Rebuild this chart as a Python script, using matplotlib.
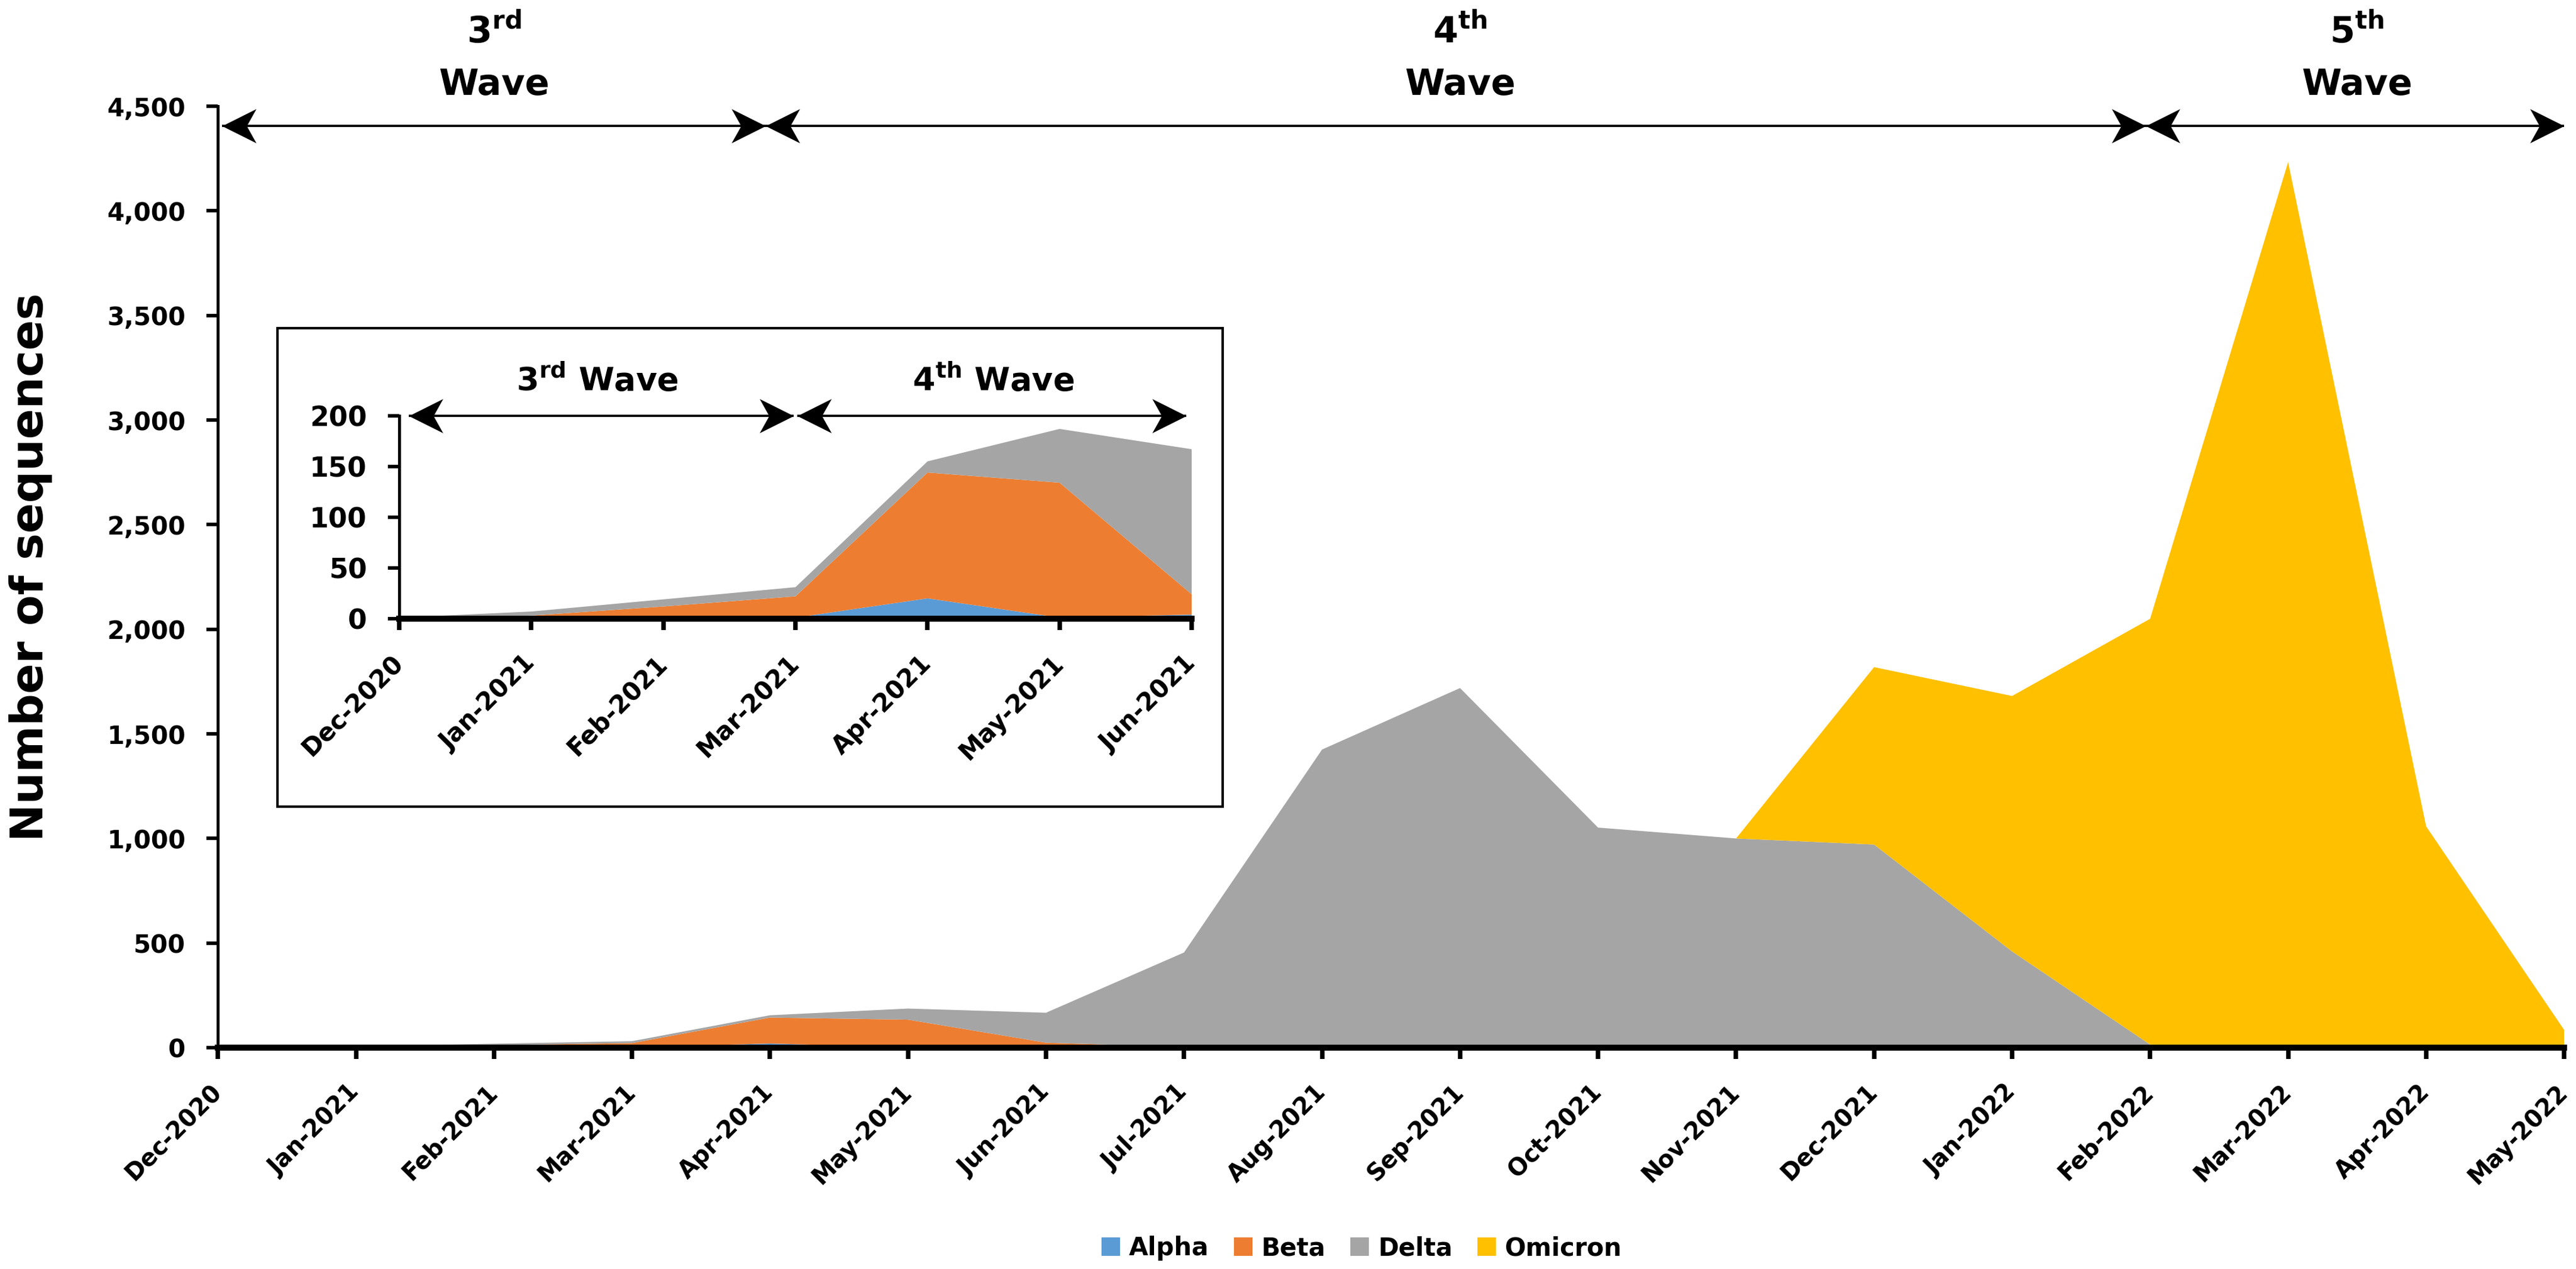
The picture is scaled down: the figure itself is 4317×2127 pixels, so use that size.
import matplotlib
matplotlib.use('Agg')
import matplotlib.pyplot as plt
import numpy as np
from matplotlib.path import Path
from matplotlib.patches import Rectangle
from matplotlib.ticker import FuncFormatter

plt.rcParams['font.family'] = ['DejaVu Sans']
plt.rcParams['font.weight'] = 'bold'
plt.rcParams['mathtext.fontset'] = 'dejavusans'

# ---------------- data ----------------
months = ['Dec-2020', 'Jan-2021', 'Feb-2021', 'Mar-2021', 'Apr-2021', 'May-2021',
          'Jun-2021', 'Jul-2021', 'Aug-2021', 'Sep-2021', 'Oct-2021', 'Nov-2021',
          'Dec-2021', 'Jan-2022', 'Feb-2022', 'Mar-2022', 'Apr-2022', 'May-2022']
alpha   = [0, 0, 0, 1, 20, 1, 4, 0, 0, 0, 0, 0, 0, 0, 0, 0, 0, 0]
beta    = [0, 3, 12, 21, 124, 133, 20, 3, 0, 0, 0, 0, 0, 0, 0, 0, 0, 0]
delta   = [1, 4, 7, 9, 11, 53, 143, 452, 1425, 1719, 1052, 1000, 971, 460, 15, 5, 3, 2]
omicron = [0, 0, 0, 0, 0, 0, 0, 0, 0, 0, 0, 0, 848, 1221, 2035, 4228, 1055, 83]

variants = ['Alpha', 'Beta', 'Delta', 'Omicron']
colors = ['#5B9BD5', '#ED7D31', '#A5A5A5', '#FFC000']

main_yticks = [0, 500, 1000, 1500, 2000, 2500, 3000, 3500, 4000, 4500]
inset_yticks = [0, 50, 100, 150, 200]
inset_months = 7  # Dec-2020 .. Jun-2021

# waves: (number, suffix, start index, end index)
main_waves = [('3', 'rd', 0, 4), ('4', 'th', 4, 14), ('5', 'th', 14, 17)]
inset_waves = [('3', 'rd', 0, 3), ('4', 'th', 3, 6)]

# ---------------- helpers ----------------
def stealth(direction):
    # arrow head whose tip sits at (0, 0)
    s = 1 if direction == 'right' else -1
    verts = [(0, 0), (-s * 1.0, 0.5), (-s * 0.72, 0), (-s * 1.0, -0.5), (0, 0)]
    codes = [Path.MOVETO, Path.LINETO, Path.LINETO, Path.LINETO, Path.CLOSEPOLY]
    return Path(verts, codes)

def draw_arrow(ax, x0, x1, y, ms=27.5, lw=0.9):
    ax.plot([x0, x1], [y, y], color='black', lw=lw, solid_capstyle='butt',
            clip_on=False, zorder=6)
    ax.plot([x0], [y], marker=stealth('left'), markersize=ms, color='black',
            markeredgewidth=0, clip_on=False, zorder=6, linestyle='none')
    ax.plot([x1], [y], marker=stealth('right'), markersize=ms, color='black',
            markeredgewidth=0, clip_on=False, zorder=6, linestyle='none')

def style_axes(ax, ylabel_size):
    ax.spines['top'].set_visible(False)
    ax.spines['right'].set_visible(False)
    ax.spines['bottom'].set_linewidth(2.4)
    ax.spines['left'].set_linewidth(1.2)
    ax.tick_params(axis='x', direction='out', length=4.5, width=1.8, pad=12)
    ax.tick_params(axis='y', direction='out', length=4.5, width=1.4, pad=8.5,
                   labelsize=ylabel_size)

# ---------------- figure ----------------
W, H = 4317, 2127
fig = plt.figure(figsize=(W / 300, H / 300), dpi=300)

x = np.arange(len(months))
ax = fig.add_axes([0.0846, 0.1744, 0.9108, 0.7419], zorder=1)
polys = ax.stackplot(x, alpha, beta, delta, omicron, colors=colors,
                     labels=variants, linewidth=0)
ax.set_xlim(0, len(months) - 1)
ax.set_ylim(0, 4500)
ax.set_yticks(main_yticks)
ax.yaxis.set_major_formatter(FuncFormatter(lambda v, p: f'{int(v):,}'))
ax.set_xticks(x)
ax.set_xticklabels(months, rotation=45, ha='right', va='center',
                   rotation_mode='anchor', fontsize=9.5, fontweight='bold')
style_axes(ax, 10)
for t in ax.get_yticklabels():
    t.set_fontweight('bold')

fig.text(0.012, 0.553, 'Number of sequences', rotation=90, ha='center',
         va='center', fontsize=18, fontweight='bold')

# main wave arrows and labels
gap = 0.03
for i, (num, suf, s, e) in enumerate(main_waves):
    x0 = s + gap if i == 0 else s - gap
    x1 = e - gap if i < len(main_waves) - 1 else e
    draw_arrow(ax, x0, x1, 4405)
    cx = (s + e) / 2
    ax.text(cx, 4805, r'$\mathbf{' + num + '^{' + suf + '}}$', ha='center',
            va='baseline', fontsize=14.5)
    ax.text(cx, 4555, 'Wave', ha='center', va='baseline', fontsize=14.5,
            fontweight='bold')

# legend
fig.legend(polys, variants, loc='center', bbox_to_anchor=(0.5286, 0.0164),
           ncol=4, frameon=False, fontsize=10, handlelength=0.75,
           handleheight=0.75, handletextpad=0.35, columnspacing=1.0)

# ---------------- inset ----------------
box = Rectangle((0.1077, 0.3644), 0.3669, 0.3771, transform=fig.transFigure,
                facecolor='white', edgecolor='black', lw=1.0, zorder=3)
fig.add_artist(box)

axi = fig.add_axes([0.155, 0.5125, 0.3076, 0.1599], zorder=4)
axi.patch.set_alpha(0)
xi = np.arange(inset_months)
axi.stackplot(xi, alpha[:inset_months], beta[:inset_months],
              delta[:inset_months], omicron[:inset_months], colors=colors,
              linewidth=0)
axi.set_xlim(0, inset_months - 1)
axi.set_ylim(0, 200)
axi.set_yticks(inset_yticks)
axi.set_xticks(xi)
axi.set_xticklabels(months[:inset_months], rotation=45, ha='right', va='center',
                    rotation_mode='anchor', fontsize=10, fontweight='bold')
style_axes(axi, 11)
for t in axi.get_yticklabels():
    t.set_fontweight('bold')

for i, (num, suf, s, e) in enumerate(inset_waves):
    x0 = s + 0.07 if i == 0 else s + 0.015
    x1 = e - 0.015 if i < len(inset_waves) - 1 else e - 0.04
    draw_arrow(axi, x0, x1, 200)
    cx = (s + e) / 2
    axi.text(cx, 225, r'$\mathbf{' + num + '^{' + suf + '}}$' + ' Wave',
             ha='center', va='baseline', fontsize=13, fontweight='bold')

fig.savefig('out.png', dpi=300, facecolor='white')
